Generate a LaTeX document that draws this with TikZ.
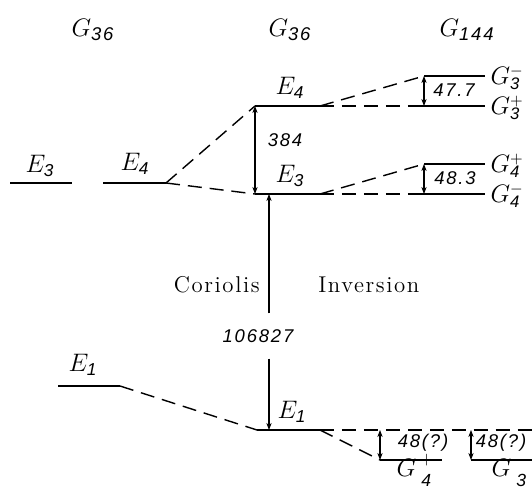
\documentclass[tikz,border=0pt]{standalone}
\usepackage{amsmath}
\usepackage{fontspec}
\usepackage{tikz}
\usetikzlibrary{arrows.meta,positioning}
\newfontfamily\numfont[LetterSpace=10]{Liberation Sans}
\newfontfamily\mechfont[LetterSpace=7]{Latin Modern Roman}
\newcommand{\dg}[1]{\text{\numfont\itshape #1}}
% G label with raised sign and lowered index
\newcommand{\glab}[2]{$G$\rlap{\raisebox{0.8ex}{\fontsize{9}{9}\selectfont$#1$}}%
  \raisebox{-0.5ex}{\fontsize{9.5}{9.5}\selectfont\numfont\itshape #2}}
\newcommand{\glabwide}[2]{$G$\rlap{\kern2pt\raisebox{1.1ex}{\fontsize{10}{10}\selectfont$#1$}}%
  \kern3pt\raisebox{-1.0ex}{\fontsize{10}{10}\selectfont\numfont\itshape #2}}
\tikzset{
  corr/.style={
    x=0.02cm, y=-0.02cm,
    >={Stealth[length=4pt,width=3pt]},
    line width=0.6pt,
    every node/.style={font=\fontsize{14}{16}\selectfont}
  },
  lvl/.style={line width=1.3pt},                          % energy level
  link/.style={dash pattern=on 8pt off 4.5pt, line width=0.8pt},
  gaparrow/.style={<->, line width=0.6pt},
  lvlname/.style={font=\fontsize{14}{16}\selectfont, inner sep=1pt},
  gname/.style={font=\fontsize{14}{16}\selectfont, inner sep=0pt, anchor=base west},
  gapval/.style={font=\fontsize{10.5}{12}\selectfont\numfont\itshape, inner sep=1pt},
  grp/.style={font=\fontsize{15}{17}\selectfont},
  mech/.style={font=\fontsize{13}{15}\selectfont\mechfont, inner sep=1pt}
}

\begin{document}
\begin{tikzpicture}[corr]
\useasboundingbox (0,0) rectangle (532,491);

% Group headers
\node[grp] (hleft) at (93,30) {$G_{\dg{36}}$};
\node[grp] (hmid) at (290,30) {$G_{\dg{36}}$};
\node[grp] (hright) at (467,30) {$G_{\dg{144}}$};

% Level end points, left column
\coordinate (lE3a) at (10,183);  \coordinate (lE3b) at (72,183);
\coordinate (lE4a) at (103,183); \coordinate (lE4b) at (166,183);
\coordinate (lE1a) at (58,386);  \coordinate (lE1b) at (120,386);

% Level end points, centre column
\coordinate (cE4a) at (255,106); \coordinate (cE4b) at (320,106);
\coordinate (cE3a) at (255,194); \coordinate (cE3b) at (320,194);
\coordinate (cE1a) at (257,430); \coordinate (cE1b) at (320,430);

% Level end points, G144 column
\coordinate (g3ma) at (424,76);  \coordinate (g3mb) at (485,76);
\coordinate (g3pa) at (408,106); \coordinate (g3pb) at (485,106);
\coordinate (g4pa) at (424,164); \coordinate (g4pb) at (485,164);
\coordinate (g4ma) at (408,194); \coordinate (g4mb) at (485,194);
\coordinate (b4pa) at (380,460); \coordinate (b4pb) at (442,460);
\coordinate (b3ma) at (471,460); \coordinate (b3mb) at (532,460);
\coordinate (dend) at (532,430);

% Levels
\draw[lvl] (lE3a) -- (lE3b);
\draw[lvl] (lE4a) -- (lE4b);
\draw[lvl] (lE1a) -- (lE1b);
\draw[lvl] (cE4a) -- (cE4b);
\draw[lvl] (cE3a) -- (cE3b);
\draw[lvl] (cE1a) -- (cE1b);
\draw[lvl] (g3ma) -- (g3mb);
\draw[lvl] (g3pa) -- (g3pb);
\draw[lvl] (g4pa) -- (g4pb);
\draw[lvl] (g4ma) -- (g4mb);
\draw[lvl] (b4pa) -- (b4pb);
\draw[lvl] (b3ma) -- (b3mb);

% Level names
\node[lvlname] (nlE3) at (40,166) {$E_{\dg{3}}$};
\node[lvlname] (nlE4) at (135,164) {$E_{\dg{4}}$};
\node[lvlname] (nlE1) at (83,365) {$E_{\dg{1}}$};
\node[lvlname] (ncE4) at (290,88) {$E_{\dg{4}}$};
\node[lvlname] (ncE3) at (290,176) {$E_{\dg{3}}$};
\node[lvlname] (ncE1) at (292,412) {$E_{\dg{1}}$};
\node[gname] (ng3m) at (490,84) {\glab{-}{3}};
\node[gname] (ng3p) at (490,114) {\glab{+}{3}};
\node[gname] (ng4p) at (490,172) {\glab{+}{4}};
\node[gname] (ng4m) at (490,202) {\glab{-}{4}};
\node[gname] (nb4p) at (396,476) {\glabwide{+}{4}};
\node[gname] (nb3m) at (491,476) {\glabwide{-}{3}};

% Correlation lines
\draw[link] (lE4b) -- (cE4a);
\draw[link] (lE4b) -- (cE3a);
\draw[link] (lE1b) -- (cE1a);
\draw[link] (cE4b) -- (g3ma);
\draw[link] (cE4b) -- (g3pa);
\draw[link] (cE3b) -- (g4pa);
\draw[link] (cE3b) -- (g4ma);
\draw[link] (cE1b) -- (dend);
\draw[link] (cE1b) -- (b4pa);

% Splittings
\draw[gaparrow] (cE4a) -- (cE3a);
\node[gapval] (v384) at (285,140) {384};
\draw[gaparrow] (g3ma) -- (g3ma |- g3pa);
\node[gapval] (v477) at (454,90) {47.7};
\draw[gaparrow] (g4pa) -- (g4pa |- g4ma);
\node[gapval] (v483) at (455,178) {48.3};
\draw[gaparrow] (b4pa |- dend) -- (b4pa);
\node[gapval] (v48a) at (423,443) {48(?)};
\draw[gaparrow] (b3ma |- dend) -- (b3ma);
\node[gapval] (v48b) at (501,443) {48(?)};

% Big E3 - E1 gap
\coordinate (bigtop) at (269,194);
\coordinate (bigbot) at (269,430);
\node[gapval, minimum height=0.88cm] (vbig) at (258,336) {106827};
\draw[->] (vbig.north -| bigtop) -- (bigtop);
\draw[->] (vbig.south -| bigbot) -- (bigbot);

% Mechanisms
\node[mech, anchor=east] (cor) at (262,285) {Coriolis};
\node[mech, anchor=west] (inv) at (316,285) {Inversion};

\end{tikzpicture}
\end{document}
